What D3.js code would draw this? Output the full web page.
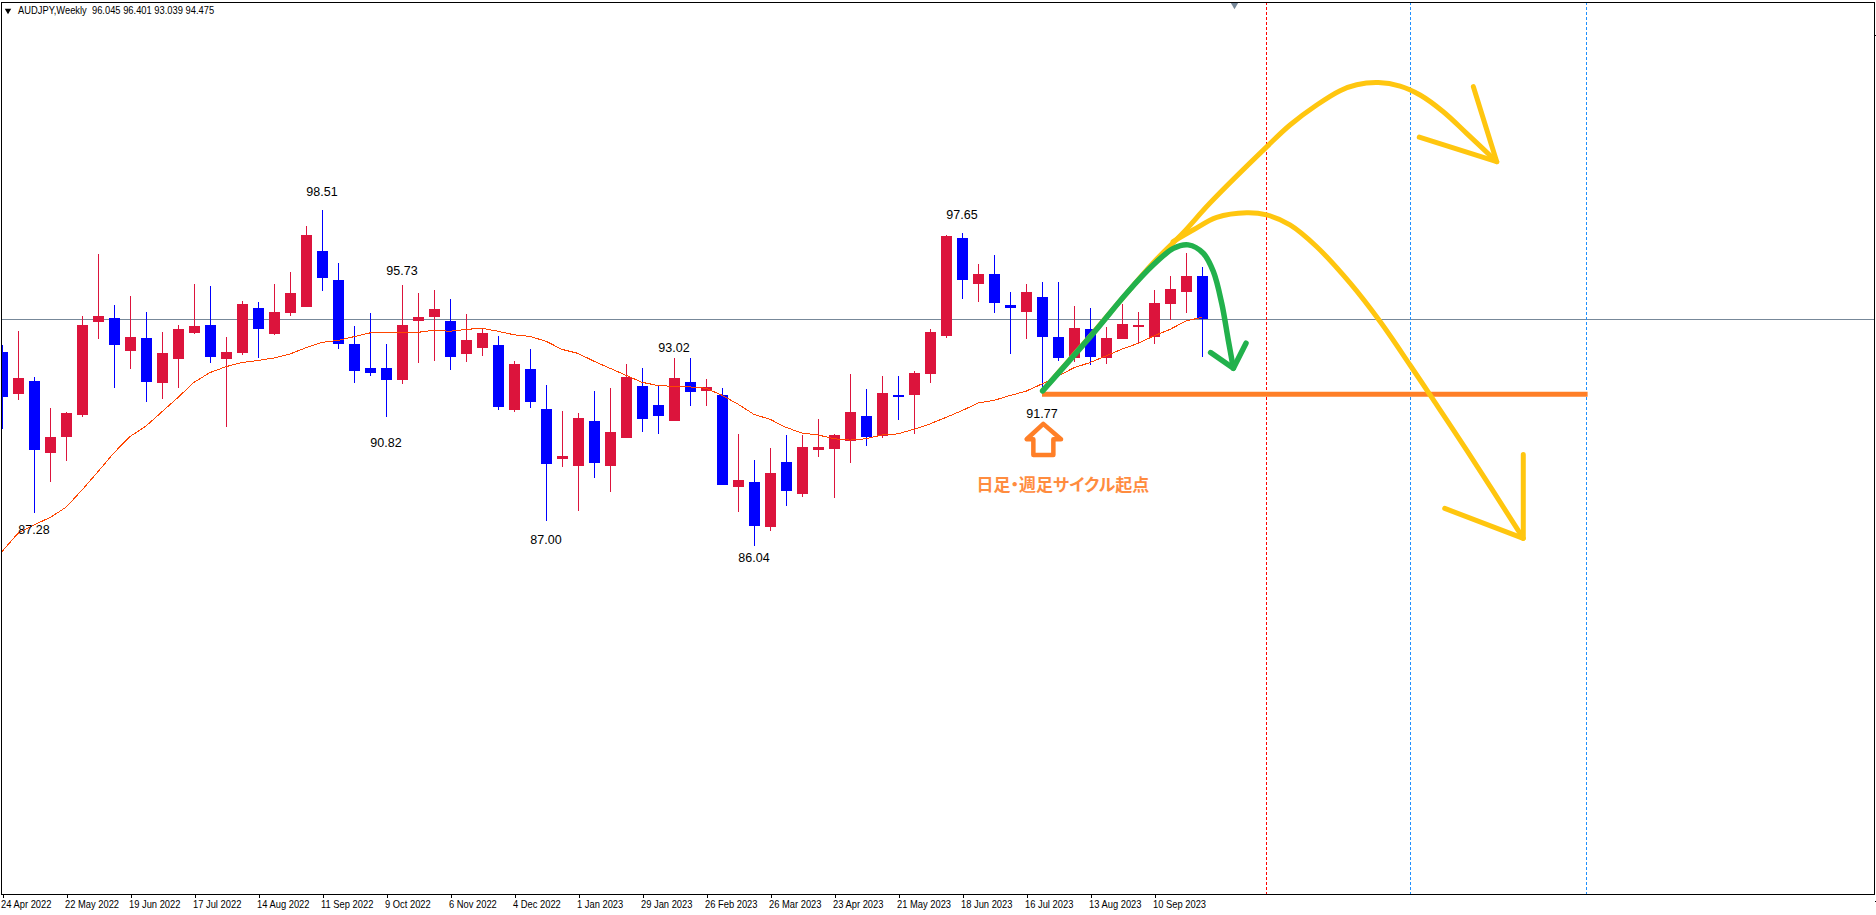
<!DOCTYPE html>
<html>
<head>
<meta charset="utf-8">
<script src="https://d3js.org/d3.v7.min.js"></script>
<style>
  html, body { margin: 0; padding: 0; background: #fff; overflow: hidden; }
  svg { display: block; }
  text { fill: #000; }
  .tick-label, .header { font: 11px "Liberation Sans", Arial, sans-serif; }
  .swing { font: 12.5px "Liberation Sans", Arial, sans-serif; text-anchor: middle; }
  .note { font: bold 17px "Noto Sans CJK JP", sans-serif; fill: #ff8c3f; font-feature-settings: "palt"; }
</style>
</head>
<body>
<svg width="1876" height="915"></svg>
<script>
/* AUDJPY weekly candles with hand drawn cycle arrows */

// DATA ////////////////////////////////////////////////////////////////////////
const open = [
  93.24, 91.70, 92.17, 89.51, 90.11, 90.91, 94.37, 94.50, 93.29, 93.76,
  92.11, 93.00, 93.95, 94.24, 93.00, 93.22, 94.87, 93.91, 94.70, 94.92,
  96.98, 95.91, 93.54, 92.65, 92.65, 92.22, 94.39, 94.54, 94.39, 93.18,
  93.40, 93.50, 91.11, 92.61, 91.13, 89.28, 89.03, 90.69, 89.03, 90.07,
  91.98, 91.28, 90.70, 92.13, 91.81, 91.65, 88.26, 88.43, 86.77, 89.17,
  88.00, 89.61, 89.66, 89.96, 90.87, 90.13, 91.65, 91.66, 92.44, 93.85,
  97.47, 95.77, 96.13, 94.98, 94.74, 95.28, 93.80, 93.03, 94.10, 93.03,
  93.74, 94.17, 93.81, 95.03, 95.48, 96.045
];
const high = [
  93.50, 94.02, 92.32, 91.17, 91.02, 94.58, 96.87, 94.98, 95.32, 94.72,
  93.98, 94.24, 95.76, 95.69, 93.80, 95.13, 95.09, 95.76, 96.21, 97.91,
  98.51, 96.54, 94.21, 94.69, 93.54, 95.73, 95.43, 95.54, 95.21, 94.65,
  94.13, 93.84, 92.91, 93.35, 92.02, 91.06, 90.98, 91.80, 91.91, 92.80,
  92.65, 91.98, 93.02, 93.02, 92.24, 91.91, 90.21, 89.24, 89.69, 90.17,
  90.17, 90.76, 90.21, 92.43, 91.87, 92.35, 92.35, 92.54, 94.10, 97.58,
  97.65, 96.50, 96.84, 95.47, 95.76, 95.84, 95.84, 94.95, 94.87, 94.17,
  95.02, 94.73, 95.54, 96.06, 96.91, 96.401
];
const low = [
  90.39, 91.46, 87.28, 88.43, 89.21, 90.84, 93.72, 91.91, 92.61, 91.39,
  91.50, 91.91, 93.91, 92.84, 90.46, 93.13, 93.02, 93.87, 94.58, 94.91,
  95.50, 93.35, 92.09, 92.35, 90.82, 92.07, 92.84, 92.91, 92.58, 92.87,
  93.09, 91.09, 91.02, 91.17, 87.00, 88.98, 87.35, 88.58, 88.06, 90.06,
  90.28, 90.21, 90.69, 91.24, 91.24, 88.32, 87.32, 86.04, 86.61, 87.54,
  87.87, 89.35, 87.84, 89.13, 89.76, 90.06, 90.73, 90.21, 92.10, 93.76,
  95.21, 95.10, 94.69, 93.17, 93.73, 91.77, 92.91, 92.87, 92.76, 92.80,
  93.72, 93.58, 93.54, 94.44, 94.69, 93.039
];
const close = [
  91.59, 92.28, 89.63, 90.09, 90.98, 94.24, 94.58, 93.51, 93.80, 92.14,
  93.21, 94.09, 94.21, 93.07, 93.24, 95.02, 94.11, 94.72, 95.43, 97.58,
  96.00, 93.55, 92.55, 92.48, 92.22, 94.24, 94.54, 94.84, 93.07, 93.69,
  93.95, 91.22, 92.80, 91.40, 89.11, 89.39, 90.80, 89.14, 90.28, 92.32,
  90.77, 90.89, 92.28, 91.77, 91.95, 88.33, 88.50, 86.81, 88.76, 88.11,
  89.72, 89.72, 90.17, 91.02, 90.10, 91.73, 91.61, 92.47, 93.98, 97.54,
  95.92, 96.13, 95.07, 94.89, 95.47, 93.81, 93.03, 94.13, 93.07, 93.76,
  94.28, 94.24, 95.06, 95.58, 96.06, 94.475
];
const movingAvg = [
  85.85, 86.53, 86.84, 87.11, 87.49, 88.13, 88.81, 89.51, 90.11, 90.50,
  91.03, 91.56, 92.12, 92.48, 92.70, 92.85, 92.93, 93.02, 93.17, 93.40,
  93.60, 93.67, 93.81, 93.95, 93.97, 93.97, 93.97, 94.05, 94.01, 94.08,
  94.12, 94.01, 93.88, 93.82, 93.64, 93.34, 93.19, 92.90, 92.64, 92.38,
  92.12, 92.00, 91.97, 91.95, 91.90, 91.64, 91.31, 90.93, 90.75, 90.45,
  90.24, 90.17, 90.03, 89.98, 90.03, 90.17, 90.21, 90.38, 90.58, 90.82,
  91.07, 91.35, 91.45, 91.63, 91.79, 92.06, 92.35, 92.66, 92.85, 93.10,
  93.35, 93.56, 93.84, 94.08, 94.39, 94.53
];

const tickLabels = [
  '24 Apr 2022', '22 May 2022', '19 Jun 2022', '17 Jul 2022', '14 Aug 2022',
  '11 Sep 2022', '9 Oct 2022', '6 Nov 2022', '4 Dec 2022', '1 Jan 2023',
  '29 Jan 2023', '26 Feb 2023', '26 Mar 2023', '23 Apr 2023', '21 May 2023',
  '18 Jun 2023', '16 Jul 2023', '13 Aug 2023', '10 Sep 2023'
];
const tickIndex = tickLabels.map((d, i) => i * 4);

// swing highs and lows that carry a price label
const swingIndex = [2, 20, 24, 25, 34, 42, 47, 60, 65];
const swingPrice = [87.28, 98.51, 90.82, 95.73, 87.00, 93.02, 86.04, 97.65, 91.77];

// future bars with a vertical cycle line
const redLineBars = [79];
const blueLineBars = [88, 99];

const currentPrice = 94.475;
const chartShiftBar = 77;
const headerText = 'AUDJPY,Weekly  96.045 96.401 93.039 94.475';
const noteText = '日足・週足サイクル起点';

// hand drawn annotations, [bar, price]
const bigCurve = [
  [65.03, 91.80], [68.19, 93.95], [71.94, 96.54], [73.81, 97.65], [75.50, 98.76],
  [79.04, 100.84], [80.50, 101.65], [82.17, 102.39], [83.63, 102.92], [84.67, 103.14],
  [86.02, 103.22], [87.38, 103.09], [88.63, 102.76], [90.08, 102.14], [91.54, 101.34],
  [93.42, 100.29]
];
const bigHead = [[91.96, 103.07], [93.42, 100.29], [88.58, 101.20]];
const midCurve = [
  [73.19, 97.33], [74.44, 97.76], [75.92, 98.23], [77.79, 98.40], [79.04, 98.32],
  [80.50, 97.95], [82.17, 97.14], [84.25, 95.80], [86.13, 94.37], [88.00, 92.76],
  [89.46, 91.47], [91.54, 89.61], [95.08, 86.34]
];
const midHead = [[95.08, 89.45], [95.08, 86.34], [90.17, 87.45]];
const greenCurve = [
  [65.04, 91.80], [68.21, 93.94], [70.29, 95.42], [71.96, 96.47], [73.21, 97.08],
  [74.14, 97.21], [75.08, 96.90], [75.71, 96.22], [76.23, 95.05], [76.64, 93.69],
  [76.96, 92.64]
];
const greenHead = [[75.54, 93.22], [76.96, 92.64], [77.75, 93.57]];
const supportLine = [[65, 91.68], [99.1, 91.68]];
const upArrow = [
  [65.08, 90.58], [64.04, 90.01], [64.46, 90.01], [64.46, 89.43],
  [65.71, 89.43], [65.71, 90.01], [66.19, 90.01]
];
const noteAnchor = [60.9, 88.09];

// SET PARAMETERS //////////////////////////////////////////////////////////////
const svg = d3.select('svg');
const frame = { left: 1, top: 2, right: 1874, bottom: 894 };
const swingOffset = [21, -13.6, 30, -10, 23, -6.3, 16, -14, 26];
const narrowText = 0.85; // the platform font is narrower than Liberation Sans

const colors = {
  up: '#dc143c',
  down: '#0000ff',
  ma: '#ff4500',
  price: '#778899',
  red: '#ff0000',
  blue: '#1e90ff',
  yellow: '#ffc60f',
  green: '#22b14c',
  orange: '#ff7f27'
};

const x = d3.scaleLinear().domain([0, 117]).range([2, 1874]);
const y = d3.scaleLinear().domain([106.28, 72.5]).range([0, 912]);
const px = p => Math.round(y(p));

const candles = open.map((d, i) => ({
  i, open: d, high: high[i], low: low[i], close: close[i]
}));

const drawn = d3
  .line()
  .x(d => x(d[0]))
  .y(d => y(d[1]));
const curved = d3
  .line()
  .x(d => x(d[0]))
  .y(d => y(d[1]))
  .curve(d3.curveCatmullRom.alpha(0.5));

// DRAW ////////////////////////////////////////////////////////////////////////
svg
  .append('defs')
  .append('clipPath')
  .attr('id', 'plot')
  .append('rect')
  .attr('x', frame.left + 1)
  .attr('y', frame.top)
  .attr('width', frame.right - frame.left - 1)
  .attr('height', frame.bottom - frame.top);

const g = svg.append('g').attr('clip-path', 'url(#plot)');

// current price line
g.append('rect')
  .attr('x', frame.left)
  .attr('y', px(currentPrice))
  .attr('width', frame.right - frame.left)
  .attr('height', 1)
  .attr('fill', colors.price);

// cycle lines
const vlines = redLineBars
  .map(d => ({ bar: d, color: colors.red }))
  .concat(blueLineBars.map(d => ({ bar: d, color: colors.blue })));
g.selectAll('.vline')
  .data(vlines)
  .enter()
  .append('line')
  .attr('class', 'vline')
  .attr('x1', d => x(d.bar) + 0.5)
  .attr('x2', d => x(d.bar) + 0.5)
  .attr('y1', frame.top)
  .attr('y2', frame.bottom)
  .attr('stroke', d => d.color)
  .attr('stroke-dasharray', '3,2')
  .attr('shape-rendering', 'crispEdges');

// candles
const candle = g
  .selectAll('.candle')
  .data(candles)
  .enter()
  .append('g')
  .attr('class', 'candle')
  .attr('fill', d => (d.close >= d.open ? colors.up : colors.down))
  .attr('shape-rendering', 'crispEdges');

candle
  .append('rect')
  .attr('x', d => x(d.i))
  .attr('y', d => px(d.high))
  .attr('width', 1)
  .attr('height', d => px(d.low) - px(d.high));

candle
  .append('rect')
  .attr('x', d => x(d.i) - 5)
  .attr('y', d => px(Math.max(d.open, d.close)))
  .attr('width', 11)
  .attr('height', d =>
    Math.max(2, px(Math.min(d.open, d.close)) - px(Math.max(d.open, d.close)))
  );

// moving average
g.append('path')
  .datum(movingAvg)
  .attr('fill', 'none')
  .attr('stroke', colors.ma)
  .attr('stroke-width', 1)
  .attr('shape-rendering', 'crispEdges')
  .attr(
    'd',
    d3
      .line()
      .x((d, i) => x(i))
      .y(d => y(d))
  );

// swing labels
g.selectAll('.swing')
  .data(swingIndex)
  .enter()
  .append('text')
  .attr('class', 'swing')
  .attr('x', d => x(d))
  .attr('y', (d, i) => y(swingPrice[i]) + swingOffset[i])
  .text((d, i) => swingPrice[i].toFixed(2));

// hand drawn marks
const stroke = (pts, line, color, width) =>
  g
    .append('path')
    .datum(pts)
    .attr('fill', 'none')
    .attr('stroke', color)
    .attr('stroke-width', width)
    .attr('stroke-linecap', 'round')
    .attr('stroke-linejoin', 'round')
    .attr('d', line);

stroke(supportLine, drawn, colors.orange, 5).attr('stroke-linecap', 'butt');
stroke(bigCurve, curved, colors.yellow, 5);
stroke(bigHead, drawn, colors.yellow, 5);
stroke(midCurve, curved, colors.yellow, 5);
stroke(midHead, drawn, colors.yellow, 5);
stroke(greenCurve, curved, colors.green, 5.5);
stroke(greenHead, drawn, colors.green, 5.5);

g.append('path')
  .datum(upArrow)
  .attr('fill', '#fff')
  .attr('stroke', colors.orange)
  .attr('stroke-width', 4.5)
  .attr('stroke-linejoin', 'round')
  .attr('d', d => drawn(d) + 'Z');

g.append('text')
  .attr('class', 'note')
  .attr('x', x(noteAnchor[0]))
  .attr('y', y(noteAnchor[1]))
  .text(noteText);

// chart shift marker
g.append('path')
  .attr('fill', colors.price)
  .attr('d', d3.symbol(d3.symbolTriangle, 36))
  .attr('transform', `translate(${x(chartShiftBar) + 0.5},4) rotate(180)`);

// frame
svg
  .append('rect')
  .attr('x', frame.left + 0.5)
  .attr('y', frame.top + 0.5)
  .attr('width', frame.right - frame.left)
  .attr('height', frame.bottom - frame.top)
  .attr('fill', 'none')
  .attr('stroke', '#000')
  .attr('shape-rendering', 'crispEdges');

// squeeze a text to the platform's narrower width
const squeeze = sel =>
  sel.each(function() {
    this.setAttribute('lengthAdjust', 'spacingAndGlyphs');
    this.setAttribute('textLength', this.getComputedTextLength() * narrowText);
  });

// time axis
const axisX = svg
  .append('g')
  .attr('transform', `translate(0.5,${frame.bottom})`)
  .call(
    d3
      .axisBottom(x)
      .tickValues(tickIndex)
      .tickFormat((d, i) => tickLabels[i])
      .tickSize(4)
  );
axisX.select('.domain').remove();
axisX
  .selectAll('.tick line')
  .attr('stroke', '#000')
  .attr('shape-rendering', 'crispEdges');
axisX
  .selectAll('.tick text')
  .attr('class', 'tick-label')
  .attr('text-anchor', 'start')
  .attr('dx', -2)
  .attr('y', 5)
  .attr('dy', '0.8em')
  .call(squeeze);

// price axis stubs on the right edge
svg
  .selectAll('.stub')
  .data([105, 72.9])
  .enter()
  .append('line')
  .attr('class', 'stub')
  .attr('x1', frame.right + 1)
  .attr('x2', frame.right + 3)
  .attr('y1', d => y(d) + 0.5)
  .attr('y2', d => y(d) + 0.5)
  .attr('stroke', '#000')
  .attr('shape-rendering', 'crispEdges');

// header
svg
  .append('path')
  .attr('d', d3.symbol(d3.symbolTriangle, 18))
  .attr('transform', 'translate(8,10.5) rotate(180)');
svg
  .append('text')
  .attr('class', 'header')
  .attr('x', 18)
  .attr('y', 14)
  .style('white-space', 'pre')
  .text(headerText)
  .call(squeeze);
</script>
</body>
</html>
